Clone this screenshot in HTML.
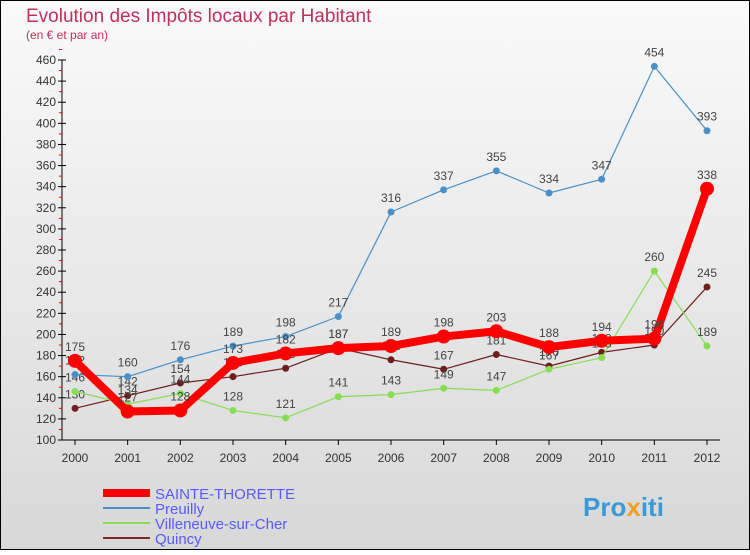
<!DOCTYPE html>
<html><head><meta charset="utf-8"><style>
body{margin:0;width:750px;height:550px;overflow:hidden;font-family:"Liberation Sans",sans-serif}
</style></head><body>
<svg width="750" height="550" xmlns="http://www.w3.org/2000/svg">
<defs><linearGradient id="bg" x1="0" y1="0" x2="0" y2="1"><stop offset="0" stop-color="#fafafa"/><stop offset="1" stop-color="#d8d8d8"/></linearGradient></defs>
<rect x="0.5" y="0.5" width="749" height="549" fill="url(#bg)" stroke="#000"/>
<text x="26" y="22" font-size="19" fill="#c0305a">Evolution des Impôts locaux par Habitant</text>
<text x="26" y="39" font-size="12" fill="#c0305a">(en € et par an)</text>
<g id="axes"></g><g id="series"></g>
<g>
<line x1="103" y1="493" x2="150" y2="493" stroke="#ff0000" stroke-width="8"/>
<text x="155" y="499" font-size="15" fill="#5a5aff">SAINTE-THORETTE</text>
<line x1="103" y1="508" x2="150" y2="508" stroke="#4a90c8" stroke-width="2"/>
<text x="155" y="514" font-size="15" fill="#5a5aff">Preuilly</text>
<line x1="103" y1="523" x2="150" y2="523" stroke="#88dd55" stroke-width="2"/>
<text x="155" y="529" font-size="15" fill="#5a5aff">Villeneuve-sur-Cher</text>
<line x1="103" y1="538" x2="150" y2="538" stroke="#7a2a2a" stroke-width="2"/>
<text x="155" y="544" font-size="15" fill="#5a5aff">Quincy</text>
</g>
<text x="583" y="516" font-size="26" font-weight="bold" fill="#3a9ad8">Pro<tspan fill="#f0a020">x</tspan>iti</text>
</svg>
<script>
const years=[2000,2001,2002,2003,2004,2005,2006,2007,2008,2009,2010,2011,2012];
const yTicks=[100,120,140,160,180,200,220,240,260,280,300,320,340,360,380,400,420,440,460];
const sainte=[175,127,128,173,182,187,189,198,203,188,194,196,338];
const preuilly=[162,160,176,189,198,217,316,337,355,334,347,454,393];
const villeneuve=[146,134,144,128,121,141,143,149,147,167,178,260,189];
const quincy=[130,142,154,160,168,187,176,167,181,170,183,190,245];
const NS="http://www.w3.org/2000/svg";
const X=i=>75+i*(632/12), Y=v=>440-(v-100)*380/360;
function mk(t,a,p){const e=document.createElementNS(NS,t);for(const k in a)e.setAttribute(k,a[k]);p.appendChild(e);return e;}
const ax=document.getElementById('axes');
const yl=mk('line',{x1:62,y1:60,x2:62,y2:440,stroke:'#000'},ax);


const xl=mk('line',{x1:62,y1:440,x2:720,y2:440,stroke:'#000'},ax);


yTicks.forEach(v=>{
 mk('line',{x1:58,y1:Y(v),x2:66,y2:Y(v),stroke:'#000'},ax);
 mk('line',{x1:59,y1:Y(v+10),x2:62,y2:Y(v+10),stroke:'#e00'},ax);
 const t=mk('text',{x:56,y:Y(v)+4,'font-size':12,'text-anchor':'end',fill:'#333'},ax);t.textContent=v;
 
 
});
years.forEach((yr,i)=>{
 mk('line',{x1:X(i),y1:440,x2:X(i),y2:445,stroke:'#000'},ax);
 const t=mk('text',{x:X(i),y:462,'font-size':12,'text-anchor':'middle',fill:'#333'},ax);t.textContent=yr;
 
 
});
const sg=document.getElementById('series');
function draw(vals,color,w,r,name){
 const g=mk('g',{},sg);
 
 
 mk('polyline',{points:vals.map((v,i)=>X(i)+','+Y(v)).join(' '),fill:'none',stroke:color,'stroke-width':w,'stroke-linejoin':'round'},g);
 vals.forEach((v,i)=>{
  const c=mk('circle',{cx:X(i),cy:Y(v),r:r,fill:color},g);
  
  
  const t=mk('text',{x:X(i),y:Y(v)-10,'font-size':12,'text-anchor':'middle',fill:'#444'},g);t.textContent=v;
  
  
 });
}
draw(quincy,'#6e1e1e',1.2,3.5,'quincy');
draw(villeneuve,'#88dd55',1.2,3.5,'villeneuve');
draw(preuilly,'#4a90c8',1.2,3.5,'preuilly');
draw(sainte,'#ff0000',8,7,'sainte-thorette');
</script>
</body></html>
